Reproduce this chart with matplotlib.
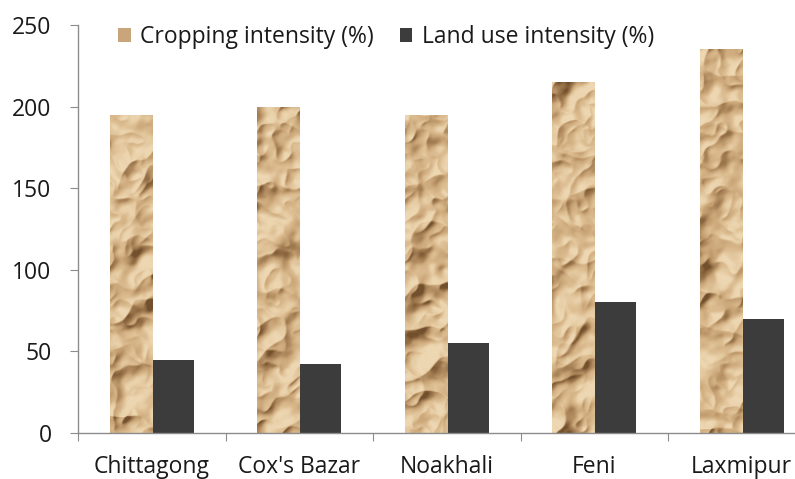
import numpy as np
import matplotlib
matplotlib.use("Agg")
import matplotlib.pyplot as plt
from matplotlib.patches import Patch
from matplotlib.colors import LinearSegmentedColormap

# District-level intensity figures
districts = ["Chittagong", "Cox's Bazar", "Noakhali", "Feni", "Laxmipur"]
cropping_intensity = [195, 200, 195, 215, 235]
land_use_intensity = [45, 42, 55, 80, 70]
y_ticks = [0, 50, 100, 150, 200, 250]

plt.rcParams["font.family"] = ["Open Sans", "DejaVu Sans"]

W, H = 795, 479
fig = plt.figure(figsize=(W / 100, H / 100), dpi=100)
ax = fig.add_axes([78 / W, 46 / H, 737.5 / W, 408 / H])

paper_cmap = LinearSegmentedColormap.from_list(
    "paper",
    [(0.0, (0.40, 0.27, 0.14)), (0.3, (0.60, 0.45, 0.29)),
     (0.6, (0.79, 0.65, 0.47)), (0.85, (0.87, 0.75, 0.58)),
     (1.0, (0.94, 0.86, 0.72))])


def crumpled_paper(h, w, seed, canvas=256):
    """Hill-shaded ridged noise that reads as crumpled kraft paper."""
    rng = np.random.default_rng(seed)
    fy = np.fft.fftfreq(h)[:, None]
    fx = np.fft.fftfreq(canvas)[None, :]
    k = np.sqrt(fx ** 2 + fy ** 2)
    z = np.zeros((h, canvas))
    for cutoff, amp in [(0.016, 1.0), (0.04, 0.3)]:
        n = np.fft.fft2(rng.standard_normal((h, canvas)))
        n *= 1.0 / (1.0 + (k / cutoff) ** 4)
        layer = np.real(np.fft.ifft2(n))
        layer /= layer.std()
        z += amp * (-np.abs(layer))
    gy, gx = np.gradient(z * 9.0)
    light = np.array([-0.55, -0.55, 0.63])
    light /= np.linalg.norm(light)
    norm = np.sqrt(gx ** 2 + gy ** 2 + 1.0)
    shade = (-gx * light[0] - gy * light[1] + light[2]) / norm
    lo, hi = np.percentile(shade, 1), np.percentile(shade, 99)
    shade = np.clip((shade - lo) / (hi - lo), 0, 1)
    shade = np.clip(shade ** 0.6 * 0.9 + 0.08, 0, 1)
    start = (canvas - w) // 2
    return shade[:, start:start + w]


x = np.arange(len(districts))
width = 0.285
crop_bars = ax.bar(x - width / 2, cropping_intensity, width, facecolor="none",
                   edgecolor="none", zorder=2)
land_bars = ax.bar(x + width / 2, land_use_intensity, width, color="#3c3c3c",
                   edgecolor="none", zorder=2)

for i, rect in enumerate(crop_bars):
    x0, w, h = rect.get_x(), rect.get_width(), rect.get_height()
    px_h = int(h * 1.632)
    tex = crumpled_paper(px_h, 42, seed=3 + 7 * i)
    im = ax.imshow(tex, cmap=paper_cmap, vmin=0, vmax=1, aspect="auto",
                   extent=[x0, x0 + w, 0, h], origin="upper", zorder=2,
                   interpolation="bilinear")
    im.set_clip_path(rect)

ax.set_xlim(-0.5, len(districts) - 0.5)
ax.set_ylim(0, 250)
ax.set_yticks(y_ticks)

# category boundaries carry the tick marks, centres carry the labels
ax.set_xticks(np.arange(len(districts) + 1) - 0.5)
ax.set_xticklabels([])
ax.set_xticks(x, minor=True)
ax.set_xticklabels(districts, minor=True)
ax.tick_params(axis="x", which="major", length=6, color="#8c8c8c", direction="out")
ax.tick_params(axis="x", which="minor", length=0, pad=16, labelsize=16.5,
               labelcolor="#1a1a1a")
ax.tick_params(axis="y", length=6, color="#8c8c8c", pad=13, labelsize=16.5,
               labelcolor="#1a1a1a")

for side in ("top", "right"):
    ax.spines[side].set_visible(False)
for side in ("left", "bottom"):
    ax.spines[side].set_color("#8c8c8c")
    ax.spines[side].set_linewidth(1.0)

handles = [Patch(facecolor="#c9a57b", edgecolor="none"),
           Patch(facecolor="#3c3c3c", edgecolor="none")]
leg = fig.legend(handles, ["Cropping intensity (%)", "Land use intensity (%)"],
                 loc="center left", bbox_to_anchor=(118 / W, 1 - 37 / H),
                 bbox_transform=fig.transFigure, ncol=2, frameon=False,
                 fontsize=16.5, handlelength=0.55, handleheight=0.55,
                 handletextpad=0.4, columnspacing=1.15, borderpad=0,
                 borderaxespad=0)
for t in leg.get_texts():
    t.set_color("#1a1a1a")

fig.savefig("out.png", dpi=100)
